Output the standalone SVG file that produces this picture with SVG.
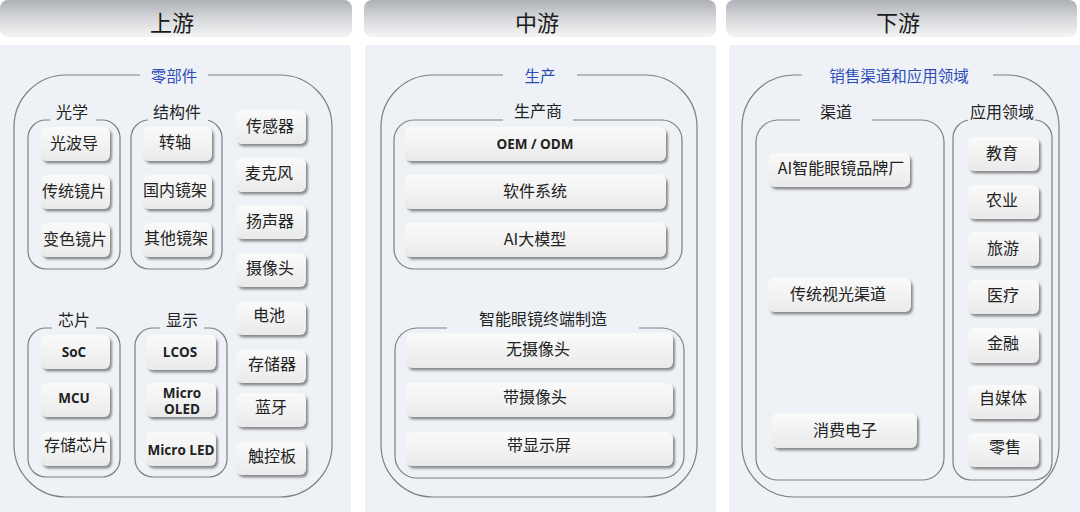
<svg xmlns="http://www.w3.org/2000/svg" width="1080" height="512" viewBox="0 0 1080 512">
<defs>
<linearGradient id="hdr" x1="0" y1="0" x2="0" y2="1">
<stop offset="0" stop-color="#adb0b5"/>
<stop offset="0.5" stop-color="#d6d8db"/>
<stop offset="1" stop-color="#f3f4f5"/>
</linearGradient>
<linearGradient id="boxg" x1="0" y1="0" x2="0" y2="1">
<stop offset="0" stop-color="#fafafa"/>
<stop offset="1" stop-color="#eaeaea"/>
</linearGradient>
<filter id="sh" x="-10%" y="-20%" width="125%" height="150%">
<feDropShadow dx="2" dy="2.5" stdDeviation="1" flood-color="#6f6f6f" flood-opacity="0.8"/>
</filter>
<style>
.panel{fill:#eef2f6}
.hdr{fill:url(#hdr)}
.grp{fill:none;stroke:#7c7f83;stroke-width:1.2}
.mask{fill:#eef2f6}
.box{fill:url(#boxg);filter:url(#sh)}
text{font-family:"Noto Sans CJK SC","Noto Sans",sans-serif;text-anchor:middle;dominant-baseline:central;fill:#222}
.h{font-size:22px;fill:#1a1a1a}
.sec{font-size:15.5px;fill:#2e4cb8}
.lab{font-size:16px}
.it{font-size:16px}
.b{font-family:"Open Sans","Noto Sans",sans-serif;font-weight:bold;font-size:13.5px}
</style>
</defs>
<rect width="1080" height="512" fill="#ffffff"/>
<g id="panels">
<rect class="panel" x="0" y="45" width="351" height="467"/>
<rect class="panel" x="365" y="45" width="351" height="467"/>
<rect class="panel" x="729" y="45" width="351" height="467"/>
<rect class="hdr" x="0" y="0" width="352" height="37" rx="8"/>
<rect class="hdr" x="364" y="0" width="352" height="37" rx="8"/>
<rect class="hdr" x="726" y="0" width="351" height="37" rx="8"/>
<text class="h" x="172" y="21">上游</text>
<text class="h" x="537" y="21">中游</text>
<text class="h" x="898" y="21">下游</text>
</g>
<g id="upstream">
<rect class="grp" x="14" y="75" width="318" height="422" rx="52"/>
<rect class="mask" x="140" y="68" width="68" height="14"/>
<text class="sec" x="174" y="75">零部件</text>
<g id="optics">
<rect class="grp" x="28" y="120" width="92" height="149" rx="18"/>
<rect class="mask" x="50" y="113" width="46" height="12"/>
<text class="lab" x="72" y="111">光学</text>
<rect class="box" x="41" y="127" width="69" height="34" rx="6"/><text class="it" x="74" y="142">光波导</text>
<rect class="box" x="41" y="175" width="69" height="34" rx="6"/><text class="it" x="74" y="190">传统镜片</text>
<rect class="box" x="41" y="223" width="69" height="34" rx="6"/><text class="it" x="75" y="238">变色镜片</text>
</g>
<g id="structure">
<rect class="grp" x="131" y="120" width="91" height="149" rx="18"/>
<rect class="mask" x="148" y="113" width="60" height="12"/>
<text class="lab" x="177" y="111">结构件</text>
<rect class="box" x="143" y="127" width="69" height="34" rx="6"/><text class="it" x="175" y="141">转轴</text>
<rect class="box" x="143" y="175" width="69" height="34" rx="6"/><text class="it" x="175" y="189">国内镜架</text>
<rect class="box" x="143" y="223" width="69" height="34" rx="6"/><text class="it" x="176" y="237">其他镜架</text>
</g>
<g id="chip">
<rect class="grp" x="28" y="328" width="92" height="149" rx="18"/>
<rect class="mask" x="52" y="321" width="44" height="12"/>
<text class="lab" x="74" y="319">芯片</text>
<rect class="box" x="41" y="335" width="69" height="34" rx="6"/><text class="b" x="74" y="352">SoC</text>
<rect class="box" x="41" y="383" width="69" height="34" rx="6"/><text class="b" x="74" y="398">MCU</text>
<rect class="box" x="41" y="432" width="69" height="34" rx="6"/><text class="it" x="76" y="444">存储芯片</text>
</g>
<g id="display">
<rect class="grp" x="135" y="328" width="92" height="149" rx="18"/>
<rect class="mask" x="160" y="321" width="44" height="12"/>
<text class="lab" x="182" y="319">显示</text>
<rect class="box" x="146" y="335" width="70" height="35" rx="6"/><text class="b" x="180" y="352">LCOS</text>
<rect class="box" x="146" y="383" width="70" height="34" rx="6"/><text class="b" x="182" y="393">Micro</text><text class="b" x="182" y="409">OLED</text>
<rect class="box" x="146" y="432" width="70" height="34" rx="6"/><text class="b" x="181" y="450">Micro LED</text>
</g>
<g id="others">
<rect class="box" x="236" y="110" width="70" height="34" rx="6"/><text class="it" x="270" y="125">传感器</text>
<rect class="box" x="236" y="158" width="70" height="34" rx="6"/><text class="it" x="269" y="172">麦克风</text>
<rect class="box" x="236" y="205" width="70" height="34" rx="6"/><text class="it" x="270" y="220">扬声器</text>
<rect class="box" x="236" y="253" width="70" height="34" rx="6"/><text class="it" x="270" y="267">摄像头</text>
<rect class="box" x="236" y="302" width="70" height="33" rx="6"/><text class="it" x="269" y="314">电池</text>
<rect class="box" x="236" y="350" width="70" height="33" rx="6"/><text class="it" x="272" y="363">存储器</text>
<rect class="box" x="236" y="393" width="70" height="34" rx="6"/><text class="it" x="271" y="406">蓝牙</text>
<rect class="box" x="236" y="442" width="70" height="33" rx="6"/><text class="it" x="272" y="455">触控板</text>
</g>
</g>
<g id="midstream">
<rect class="grp" x="381" y="75" width="316" height="422" rx="52"/>
<rect class="mask" x="503" y="68" width="74" height="14"/>
<text class="sec" x="540" y="75">生产</text>
<g id="maker">
<rect class="grp" x="394" y="120" width="288" height="149" rx="20"/>
<rect class="mask" x="503" y="113" width="70" height="12"/>
<text class="lab" x="538" y="110">生产商</text>
<rect class="box" x="405" y="127" width="261" height="34" rx="6"/><text class="b" x="535" y="144">OEM / ODM</text>
<rect class="box" x="405" y="175" width="261" height="34" rx="6"/><text class="it" x="535" y="190">软件系统</text>
<rect class="box" x="405" y="223" width="261" height="34" rx="6"/><text class="it" x="535" y="238">AI大模型</text>
</g>
<g id="terminal">
<rect class="grp" x="395" y="328" width="289" height="150" rx="22"/>
<rect class="mask" x="447" y="321" width="192" height="12"/>
<text class="lab" x="543" y="318">智能眼镜终端制造</text>
<rect class="box" x="406" y="333" width="267" height="35" rx="6"/><text class="it" x="538" y="348">无摄像头</text>
<rect class="box" x="406" y="383" width="267" height="34" rx="6"/><text class="it" x="535" y="396">带摄像头</text>
<rect class="box" x="406" y="432" width="267" height="34" rx="6"/><text class="it" x="539" y="444">带显示屏</text>
</g>
</g>
<g id="downstream">
<rect class="grp" x="742" y="75" width="317" height="422" rx="52"/>
<rect class="mask" x="802" y="68" width="191" height="14"/>
<text class="sec" x="899" y="75">销售渠道和应用领域</text>
<g id="channels">
<rect class="grp" x="756" y="120" width="188" height="360" rx="22"/>
<rect class="mask" x="800" y="113" width="72" height="12"/>
<text class="lab" x="836" y="111">渠道</text>
<rect class="box" x="769" y="153" width="141" height="34" rx="6"/><text class="it" x="841" y="167">AI智能眼镜品牌厂</text>
<rect class="box" x="768" y="278" width="143" height="34" rx="6"/><text class="it" x="838" y="293">传统视光渠道</text>
<rect class="box" x="772" y="413" width="145" height="35" rx="6"/><text class="it" x="845" y="429">消费电子</text>
</g>
<g id="apps">
<rect class="grp" x="953" y="120" width="99" height="360" rx="18"/>
<rect class="mask" x="968" y="113" width="67" height="12"/>
<text class="lab" x="1002" y="111">应用领域</text>
<rect class="box" x="968" y="137" width="71" height="34" rx="6"/><text class="it" x="1002" y="152">教育</text>
<rect class="box" x="968" y="185" width="71" height="34" rx="6"/><text class="it" x="1002" y="199">农业</text>
<rect class="box" x="968" y="232" width="71" height="34" rx="6"/><text class="it" x="1003" y="247">旅游</text>
<rect class="box" x="968" y="280" width="71" height="34" rx="6"/><text class="it" x="1003" y="294">医疗</text>
<rect class="box" x="968" y="328" width="71" height="35" rx="6"/><text class="it" x="1003" y="342">金融</text>
<rect class="box" x="968" y="385" width="71" height="34" rx="6"/><text class="it" x="1003" y="397">自媒体</text>
<rect class="box" x="968" y="433" width="71" height="34" rx="6"/><text class="it" x="1005" y="446">零售</text>
</g>
</g>
<g id="connectors"/>
</svg>
